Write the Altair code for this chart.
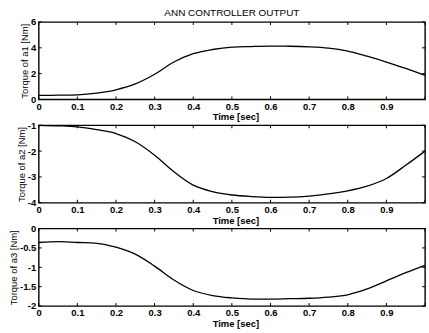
import altair as alt
import pandas as pd

# Sample times (s) and the three controller torque outputs (N·m)
time_s = [0.00, 0.05, 0.10, 0.15, 0.20, 0.25, 0.30, 0.35, 0.40, 0.45, 0.50,
          0.55, 0.60, 0.65, 0.70, 0.75, 0.80, 0.85, 0.90, 0.95, 1.00]
torque_a1 = [0.31, 0.33, 0.36, 0.49, 0.75, 1.20, 1.95, 2.90, 3.55, 3.87, 4.05,
             4.10, 4.13, 4.12, 4.08, 3.98, 3.75, 3.35, 2.90, 2.40, 1.87]
torque_a2 = [-1.00, -1.02, -1.06, -1.17, -1.32, -1.64, -2.16, -2.80, -3.32, -3.57, -3.70,
             -3.76, -3.79, -3.78, -3.74, -3.66, -3.54, -3.36, -3.06, -2.55, -2.00]
torque_a3 = [-0.36, -0.34, -0.36, -0.38, -0.48, -0.66, -0.97, -1.33, -1.60, -1.73, -1.79,
             -1.82, -1.82, -1.81, -1.80, -1.77, -1.71, -1.56, -1.35, -1.14, -0.95]

x_ticks = [0.0, 0.1, 0.2, 0.3, 0.4, 0.5, 0.6, 0.7, 0.8, 0.9, 1.0]
x_labels = [0.0, 0.1, 0.2, 0.3, 0.4, 0.5, 0.6, 0.7, 0.8, 0.9]
y_ticks_a1 = [0, 2, 4, 6]
y_ticks_a2 = [-4, -3, -2, -1]
y_ticks_a3 = [-2, -1.5, -1, -0.5, 0]

W, H = 389, 78
TICK = 3
FONT = "Liberation Sans"


def panel(values, y_title, y_ticks):
    df = pd.DataFrame({"t": time_s, "v": values})
    xt = pd.DataFrame({"t": x_ticks})
    yt = pd.DataFrame({"v": y_ticks})
    x_scale = alt.Scale(domain=[0, 1], nice=False, zero=False)
    y_scale = alt.Scale(domain=[min(y_ticks), max(y_ticks)], nice=False, zero=False)

    x_axis = alt.Axis(values=x_labels, format=".1~f", ticks=False, domain=False,
                      grid=False, title="Time  [sec]", labelPadding=2,
                      titlePadding=1, labelFontSize=9.5, titleFontSize=9.5,
                      labelFont=FONT, titleFont=FONT, labelFontWeight="bold",
                      titleFontWeight="bold", labelColor="black",
                      titleColor="black", labelFlush=False, titleX=198)
    y_axis = alt.Axis(values=y_ticks, labelExpr="'' + datum.value", ticks=False,
                      domain=False, grid=False, title=y_title, labelPadding=3,
                      titlePadding=1, labelFontSize=9.5, titleFontSize=9.5,
                      labelFont=FONT, titleFont=FONT, labelFontWeight="bold",
                      titleFontWeight="normal", labelColor="black",
                      titleColor="black", labelFlush=False)

    line = alt.Chart(df).mark_line(
        color="black", strokeWidth=1.3, interpolate="monotone"
    ).encode(
        x=alt.X("t:Q", scale=x_scale, axis=x_axis),
        y=alt.Y("v:Q", scale=y_scale, axis=y_axis),
    )

    # inward tick marks on all four sides of the frame
    top = alt.Chart(xt).mark_rule(color="black", strokeWidth=1).encode(
        x=alt.X("t:Q", scale=x_scale, axis=x_axis), y=alt.value(0), y2=alt.value(TICK))
    bottom = alt.Chart(xt).mark_rule(color="black", strokeWidth=1).encode(
        x=alt.X("t:Q", scale=x_scale, axis=x_axis), y=alt.value(H), y2=alt.value(H - TICK))
    left = alt.Chart(yt).mark_rule(color="black", strokeWidth=1).encode(
        y=alt.Y("v:Q", scale=y_scale, axis=y_axis), x=alt.value(0), x2=alt.value(TICK))
    right = alt.Chart(yt).mark_rule(color="black", strokeWidth=1).encode(
        y=alt.Y("v:Q", scale=y_scale, axis=y_axis), x=alt.value(W), x2=alt.value(W - TICK))

    return alt.layer(line, top, bottom, left, right).properties(width=W, height=H)


chart = alt.vconcat(
    panel(torque_a1, "Torque of a1  [Nm]", y_ticks_a1),
    panel(torque_a2, "Torque of a2  [Nm]", y_ticks_a2),
    panel(torque_a3, "Torque of a3  [Nm]", y_ticks_a3),
    spacing=26,
    bounds="flush",
).properties(
    title=alt.TitleParams("ANN CONTROLLER OUTPUT", anchor="middle", fontSize=10,
                          font=FONT, fontWeight="normal", color="black", offset=-2,
                          frame="group"),
    padding={"left": 7, "top": 7, "right": 0, "bottom": 0},
    background="white",
).configure_view(
    stroke="black", strokeWidth=1.4
)

chart.save("out.html", embed_options={"renderer": "svg", "actions": False})
